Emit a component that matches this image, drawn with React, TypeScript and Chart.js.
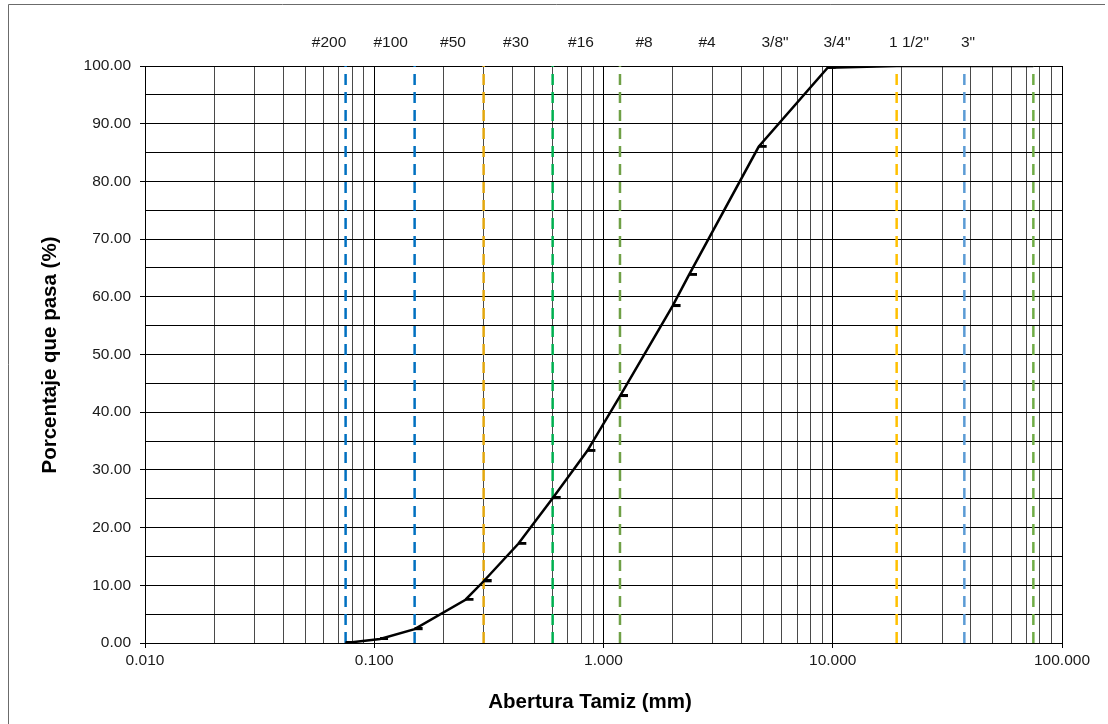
import React, { useEffect, useRef } from 'react';
import { Chart, registerables } from 'chart.js';

Chart.register(...registerables);

// ---- Data ----
const sieveSizes = [0.075, 0.106, 0.15, 0.25, 0.3, 0.425, 0.6, 0.85, 1.18, 2.0, 2.36, 4.75, 9.5, 19, 37.5, 75];
const percentPassing = [0.0, 0.7, 2.4, 7.5, 10.7, 17.2, 25.1, 33.3, 42.8, 58.4, 63.8, 86.0, 99.7, 100, 100, 100];

const refLineSizes = [0.075, 0.15, 0.3, 0.6, 1.18, 19, 37.5, 75];
const refLineColors = ['#0070C0', '#0070C0', '#E3A70E', '#00B050', '#6FA046', '#FFC000', '#5B9BD5', '#70AD47'];

const sieveLabels = ['#200', '#100', '#50', '#30', '#16', '#8', '#4', '3/8"', '3/4"', '1 1/2"', '3"'];
const sieveLabelAnchors = [0.0635, 0.118, 0.2206, 0.415, 0.798, 1.502, 2.83, 5.6, 10.43, 21.5, 38.9];

const xDecades = [0.01, 0.1, 1, 10, 100];
const xMinorMultipliers = [2, 3, 4, 5, 6, 7, 8, 9];
const yMin = 0;
const yMax = 100;
const yGridStep = 5;
const yLabelStep = 10;

const xTitle = 'Abertura Tamiz (mm)';
const yTitle = 'Porcentaje que pasa (%)';

const FONT = "'Liberation Sans', Arial, sans-serif";

function makeMarker(): HTMLCanvasElement {
  const c = document.createElement('canvas');
  c.width = 20;
  c.height = 4;
  const g = c.getContext('2d');
  if (g) {
    g.fillStyle = '#000';
    g.fillRect(10, 0, 8, 3);
  }
  return c;
}

const isDecade = (v: number) => xDecades.some((d) => Math.abs(d - v) < d * 1e-6);

const decorPlugin = {
  id: 'decor',
  afterDraw(chart: any) {
    const { ctx, chartArea, scales } = chart;
    ctx.save();
    // outer frame
    ctx.strokeStyle = '#6b6b6b';
    ctx.lineWidth = 1;
    ctx.beginPath();
    ctx.moveTo(8.5, 724);
    ctx.lineTo(8.5, 4.5);
    ctx.lineTo(1105, 4.5);
    ctx.stroke();

    // sieve labels along the top
    ctx.fillStyle = '#1a1a1a';
    ctx.font = `15.5px ${FONT}`;
    ctx.textAlign = 'center';
    ctx.textBaseline = 'middle';
    sieveLabels.forEach((lab, i) => {
      const x = scales.x.getPixelForValue(sieveLabelAnchors[i]);
      ctx.fillText(lab, x, chartArea.top - 23);
    });

    // axis titles
    ctx.fillStyle = '#000';
    ctx.font = `bold 20.5px ${FONT}`;
    ctx.fillText(xTitle, 590, 702);
    ctx.translate(50, 355);
    ctx.rotate(-Math.PI / 2);
    ctx.fillText(yTitle, 0, 0);
    ctx.restore();
  },
};

export default function App() {
  const ref = useRef<HTMLCanvasElement | null>(null);

  useEffect(() => {
    if (!ref.current) return;
    const marker = makeMarker();

    const datasets: any[] = [
      {
        label: 'Granulometría',
        data: sieveSizes.map((x, i) => ({ x, y: percentPassing[i] })),
        borderColor: '#000',
        backgroundColor: '#000',
        borderWidth: 2.5,
        pointStyle: marker,
        pointRadius: 5,
        tension: 0,
        fill: false,
      },
      ...refLineSizes.map((s, i) => ({
        label: 'ref' + i,
        data: [
          { x: s, y: yMin },
          { x: s, y: yMax },
        ],
        borderColor: refLineColors[i],
        borderWidth: 2.5,
        borderDash: [11, 7],
        pointRadius: 0,
        fill: false,
      })),
    ];

    const chart = new Chart(ref.current, {
      type: 'line',
      data: { datasets },
      plugins: [decorPlugin],
      options: {
        animation: false,
        responsive: true,
        maintainAspectRatio: false,
        layout: { padding: { top: 66, right: 46, left: 0, bottom: 0 } },
        plugins: {
          legend: { display: false },
          tooltip: { enabled: false },
          title: { display: false },
        },
        scales: {
          x: {
            type: 'logarithmic',
            min: xDecades[0],
            max: xDecades[xDecades.length - 1],
            afterBuildTicks: (scale: any) => {
              const vals: number[] = [];
              xDecades.forEach((d, i) => {
                vals.push(d);
                if (i < xDecades.length - 1) {
                  xMinorMultipliers.forEach((m) => vals.push(parseFloat((d * m).toPrecision(4))));
                }
              });
              scale.ticks = vals.map((v) => ({ value: v, major: isDecade(v) }));
            },
            afterFit: (scale: any) => {
              scale.height = 81;
            },
            ticks: {
              autoSkip: false,
              maxRotation: 0,
              minRotation: 0,
              padding: 3,
              color: '#1a1a1a',
              font: { family: FONT, size: 15.5 },
              callback: (value: any) => (isDecade(Number(value)) ? Number(value).toFixed(3) : ''),
            },
            grid: {
              color: (c: any) => (c.tick && isDecade(c.tick.value) ? '#000' : '#4a4a4a'),
              lineWidth: 1,
              drawTicks: true,
              tickLength: 5,
              tickColor: (c: any) => (c.tick && isDecade(c.tick.value) ? '#000' : 'rgba(0,0,0,0)'),
            },
            border: { color: '#000', width: 1 },
          },
          y: {
            type: 'linear',
            min: yMin,
            max: yMax,
            afterFit: (scale: any) => {
              scale.width = 145;
            },
            ticks: {
              stepSize: yGridStep,
              autoSkip: false,
              padding: 9,
              color: '#1a1a1a',
              font: { family: FONT, size: 15.5 },
              callback: (value: any) => (Number(value) % yLabelStep === 0 ? Number(value).toFixed(2) : ''),
            },
            grid: {
              color: '#000',
              lineWidth: 1,
              drawTicks: true,
              tickLength: 5,
              tickColor: (c: any) => (c.tick && c.tick.value % yLabelStep === 0 ? '#000' : 'rgba(0,0,0,0)'),
            },
            border: { color: '#000', width: 1 },
          },
        },
      } as any,
    });

    return () => chart.destroy();
  }, []);

  return (
    <div style={{ position: 'absolute', left: 0, top: 0, width: 1108, height: 724, background: '#fff' }}>
      <canvas ref={ref} />
    </div>
  );
}
